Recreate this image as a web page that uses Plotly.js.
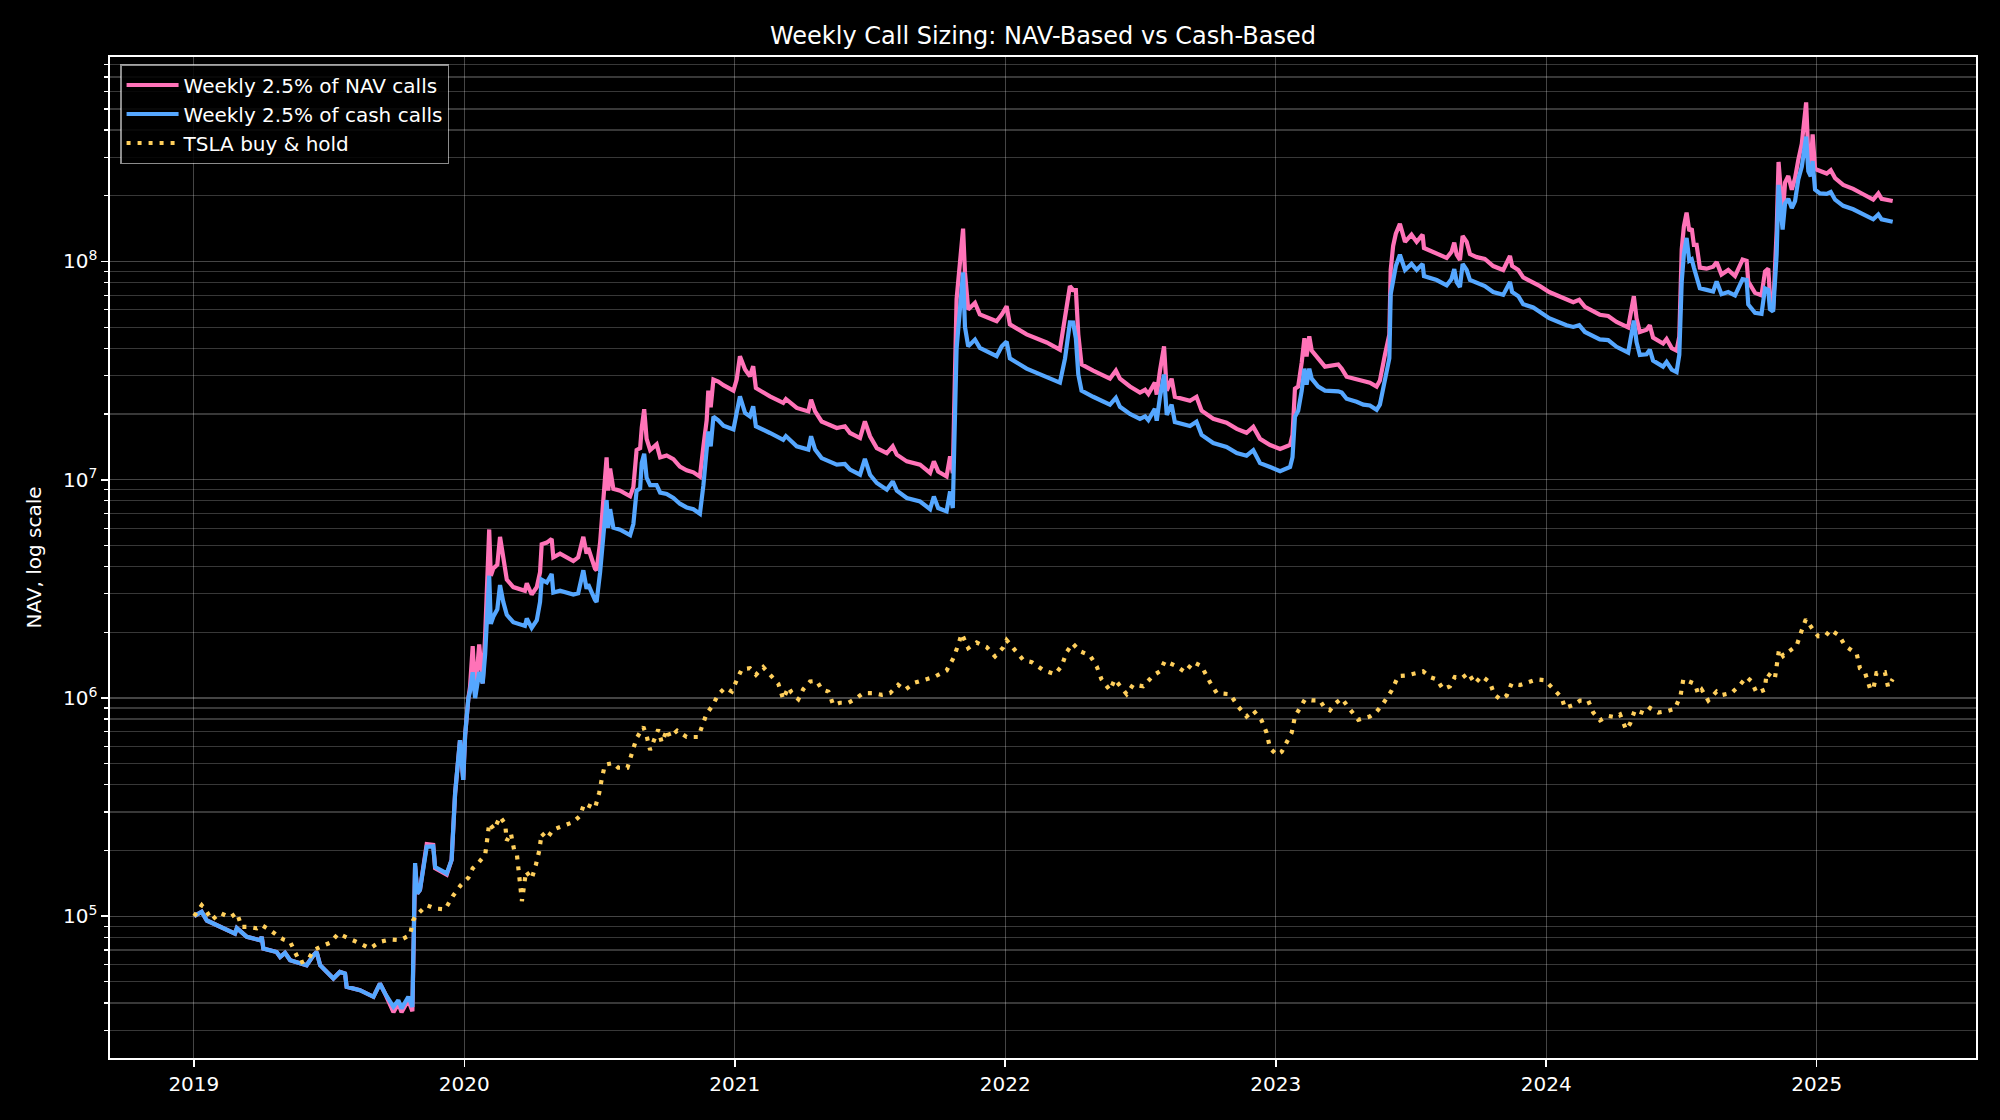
<!DOCTYPE html>
<html><head><meta charset="utf-8">
<script src="https://cdn.plot.ly/plotly-3.0.1.min.js"></script>
<style>html,body{margin:0;padding:0;background:#000;} #chart{width:2000px;height:1120px;}</style>
</head><body><div id="chart"></div>
<script>
// Dates expressed as decimal years
const navYears = [
2019.001,2019.029,2019.048,2019.097,2019.152,2019.159,2019.196,2019.245,2019.251,2019.257,
2019.306,2019.319,2019.337,2019.356,2019.417,2019.442,2019.454,2019.467,2019.516,2019.540,
2019.559,2019.565,2019.614,2019.664,2019.688,2019.707,2019.738,2019.756,2019.768,2019.793,
2019.808,2019.818,2019.826,2019.836,2019.861,2019.885,2019.892,2019.935,2019.953,2019.966,
2019.984,2019.996,2020.003,2020.015,2020.021,2020.031,2020.040,2020.055,2020.068,2020.077,
2020.092,2020.098,2020.107,2020.122,2020.132,2020.144,2020.157,2020.181,2020.224,2020.231,
2020.249,2020.268,2020.280,2020.286,2020.305,2020.323,2020.329,2020.354,2020.403,2020.421,
2020.440,2020.452,2020.458,2020.483,2020.489,2020.502,2020.514,2020.526,2020.532,2020.539,
2020.551,2020.576,2020.613,2020.625,2020.637,2020.650,2020.656,2020.665,2020.674,2020.687,
2020.711,2020.724,2020.748,2020.773,2020.797,2020.822,2020.847,2020.871,2020.884,2020.896,
2020.902,2020.911,2020.921,2020.939,2020.958,2020.995,2021.007,2021.019,2021.038,2021.056,
2021.068,2021.078,2021.130,2021.179,2021.189,2021.229,2021.272,2021.282,2021.297,2021.321,
2021.377,2021.407,2021.426,2021.463,2021.481,2021.500,2021.525,2021.562,2021.584,2021.599,
2021.636,2021.685,2021.722,2021.736,2021.752,2021.783,2021.796,2021.806,2021.820,2021.832,
2021.844,2021.851,2021.863,2021.888,2021.906,2021.968,2021.987,2022.005,2022.017,2022.079,
2022.153,2022.202,2022.221,2022.239,2022.251,2022.261,2022.270,2022.282,2022.325,2022.387,
2022.409,2022.424,2022.461,2022.498,2022.517,2022.529,2022.553,2022.560,2022.572,2022.587,
2022.597,2022.615,2022.627,2022.683,2022.707,2022.726,2022.769,2022.818,2022.856,2022.892,
2022.917,2022.942,2022.979,2023.016,2023.053,2023.062,2023.071,2023.083,2023.096,2023.106,
2023.114,2023.124,2023.133,2023.157,2023.182,2023.231,2023.244,2023.262,2023.299,2023.324,
2023.348,2023.373,2023.385,2023.404,2023.412,2023.420,2023.425,2023.434,2023.444,2023.459,
2023.478,2023.502,2023.521,2023.543,2023.548,2023.595,2023.632,2023.650,2023.660,2023.669,
2023.681,2023.691,2023.706,2023.718,2023.743,2023.773,2023.804,2023.841,2023.866,2023.874,
2023.897,2023.915,2023.952,2023.977,2024.011,2024.075,2024.100,2024.122,2024.143,2024.198,
2024.229,2024.260,2024.303,2024.324,2024.334,2024.346,2024.371,2024.383,2024.395,2024.432,
2024.445,2024.464,2024.482,2024.492,2024.501,2024.509,2024.519,2024.529,2024.538,2024.546,
2024.556,2024.568,2024.593,2024.617,2024.630,2024.648,2024.673,2024.698,2024.726,2024.741,
2024.747,2024.772,2024.796,2024.809,2024.821,2024.827,2024.839,2024.852,2024.859,2024.867,
2024.874,2024.883,2024.895,2024.908,2024.920,2024.932,2024.945,2024.961,2024.969,2024.978,
2024.985,2024.994,2025.012,2025.037,2025.052,2025.068,2025.098,2025.135,2025.172,2025.209,
2025.228,2025.240,2025.281
];

const navCalls = [
100000,104700,95500,89300,83200,88100,80400,77600,80400,71100,
68500,65000,67900,62800,59600,66200,68500,59600,51800,55500,
54600,47400,45800,42700,49100,44200,36300,39800,36300,41200,
36700,170000,127000,132000,214000,212000,166000,155000,181000,366000,
641000,421000,676000,998000,1122000,1726000,1038000,1758000,1167000,1936000,
5916000,3631000,3917000,4074000,5470000,4406000,3483000,3221000,3097000,3350000,
2979000,3221000,3767000,5058000,5152000,5358000,4406000,4581000,4236000,4406000,
5470000,4581000,4864000,3917000,3846000,5152000,7925000,12650000,8913000,11250000,
9078000,8913000,8395000,9247000,13680000,13960000,17300000,21040000,15380000,13680000,
14520000,12650000,12910000,12420000,11480000,11040000,10810000,10330000,14220000,18710000,
25590000,21480000,28770000,28180000,27100000,25590000,28770000,36810000,31990000,29790000,
33110000,26300000,24100000,22490000,23440000,21330000,20560000,23280000,20560000,18490000,
17260000,17580000,16370000,15520000,18490000,15810000,13960000,13240000,14220000,13030000,
12130000,11720000,10740000,12130000,10910000,10350000,12790000,10720000,66990000,100000000,
141300000,89130000,60260000,64570000,57150000,53210000,57150000,62370000,51520000,46340000,
42560000,39450000,54950000,77090000,73960000,73960000,46340000,33730000,31620000,29040000,
31620000,29040000,26730000,25060000,25820000,24720000,27860000,24550000,31620000,40830000,
25590000,29040000,23990000,23010000,23990000,20700000,19010000,18240000,17100000,16410000,
17460000,15380000,14420000,13840000,14420000,16030000,26120000,26730000,34430000,44460000,
36730000,45390000,39080000,35970000,32960000,33730000,32280000,29650000,28840000,28120000,
27860000,26730000,28440000,37500000,42560000,46340000,91410000,117800000,134000000,148900000,
123000000,132700000,123000000,132700000,115300000,108100000,103800000,110700000,121900000,107400000,
101600000,130900000,123000000,108100000,104700000,102800000,95280000,91410000,105900000,95280000,
91410000,84530000,80540000,77090000,72440000,66680000,65010000,66680000,61940000,57020000,
56230000,52840000,49890000,69340000,54830000,47530000,48640000,51050000,44770000,42070000,
44160000,40090000,39080000,45190000,113500000,144900000,167500000,138000000,141600000,119100000,
119100000,93760000,92680000,94620000,99310000,87100000,91410000,85700000,102100000,100700000,
80910000,71780000,69980000,89950000,92680000,69980000,60530000,138000000,285800000,213300000,
158500000,230100000,246600000,213300000,241000000,292400000,346700000,535800000,306900000,272300000,
381900000,265500000,259400000,252900000,261800000,241000000,224400000,215300000,203200000,191900000,
205100000,193600000,189200000
];

const cashCalls = [
100000,104700,95500,89300,83200,88100,80400,77600,80400,71100,
68500,65000,67900,62800,59600,66200,68500,59600,51800,55500,
54600,47400,45800,42700,49100,44200,38400,41200,37800,42700,
38400,175000,127000,132000,208000,209000,168000,157000,181000,366000,
641000,421000,676000,998000,1072000,1312000,998000,1312000,1167000,1585000,
3631000,2183000,2355000,2547000,3289000,2754000,2404000,2223000,2138000,2312000,
2094000,2270000,2754000,3483000,3381000,3698000,3041000,3097000,2979000,3020000,
3846000,3162000,3311000,2812000,2754000,3767000,5572000,8072000,6026000,7328000,
6026000,5902000,5572000,6266000,8913000,9120000,11940000,13150000,10210000,9441000,
9441000,8730000,8610000,8241000,7762000,7464000,7328000,6982000,9441000,14790000,
16630000,14220000,19450000,18710000,17660000,16980000,19950000,24100000,20230000,19500000,
21680000,17580000,16370000,15240000,15850000,14220000,13740000,15810000,13740000,12560000,
11720000,11800000,11120000,10540000,12450000,10540000,9661000,8995000,9817000,8913000,
8241000,7943000,7328000,8375000,7413000,7161000,8831000,7413000,39810000,63100000,
89130000,50120000,40830000,43850000,40180000,36810000,40830000,42950000,35970000,32280000,
29650000,27860000,35970000,52600000,52480000,44460000,30340000,25590000,23990000,22080000,
23710000,21580000,20000000,19010000,19500000,18750000,21130000,18620000,23990000,30340000,
19820000,22080000,18370000,17620000,18450000,16030000,14720000,14130000,13240000,12880000,
13650000,11910000,11430000,10940000,11430000,12680000,19410000,20700000,25590000,32280000,
27290000,32280000,29040000,26730000,25590000,25410000,25060000,23500000,22750000,22080000,
21880000,20890000,22080000,28440000,32280000,35970000,70790000,83950000,95280000,107400000,
91410000,97500000,91410000,97500000,85700000,82220000,77800000,83180000,92260000,80350000,
76380000,97500000,91410000,82220000,79430000,77090000,72440000,70310000,80540000,72440000,
69340000,63680000,61520000,58480000,54950000,51050000,50120000,51050000,47530000,43950000,
43650000,40640000,38190000,53580000,42660000,37330000,37580000,39450000,35160000,32960000,
34670000,31920000,31120000,37330000,80910000,108100000,128200000,100700000,102300000,93760000,
83180000,75340000,74130000,72780000,80910000,70790000,72440000,69980000,82990000,82220000,
63530000,58210000,57540000,75340000,74130000,60530000,59020000,108100000,224400000,171400000,
140000000,184500000,193600000,175800000,189200000,237700000,272300000,373300000,259400000,245500000,
288400000,213300000,205100000,204200000,208400000,191900000,179900000,173400000,165200000,156000000,
164100000,156000000,152100000
];

const tslaYears = [
2019.001,2019.029,2019.048,2019.066,2019.097,2019.134,2019.159,2019.177,2019.201,2019.233,
2019.251,2019.282,2019.312,2019.331,2019.356,2019.374,2019.393,2019.423,2019.442,2019.467,
2019.504,2019.534,2019.577,2019.614,2019.651,2019.688,2019.725,2019.762,2019.799,2019.811,
2019.824,2019.861,2019.892,2019.929,2019.957,2019.987,2020.015,2020.031,2020.052,2020.077,
2020.085,2020.092,2020.110,2020.132,2020.151,2020.157,2020.172,2020.184,2020.194,2020.200,
2020.210,2020.213,2020.228,2020.249,2020.264,2020.277,2020.286,2020.305,2020.329,2020.369,
2020.403,2020.428,2020.443,2020.483,2020.499,2020.509,2020.520,2020.551,2020.569,2020.603,
2020.623,2020.637,2020.662,2020.674,2020.687,2020.717,2020.730,2020.750,2020.760,2020.787,
2020.822,2020.865,2020.881,2020.896,2020.918,2020.939,2020.964,2020.989,2021.013,2021.026,
2021.056,2021.078,2021.105,2021.136,2021.161,2021.179,2021.198,2021.210,2021.235,2021.253,
2021.278,2021.303,2021.321,2021.346,2021.364,2021.389,2021.420,2021.444,2021.475,2021.512,
2021.543,2021.574,2021.604,2021.629,2021.666,2021.709,2021.740,2021.783,2021.808,2021.826,
2021.839,2021.863,2021.894,2021.931,2021.962,2021.993,2022.005,2022.030,2022.067,2022.098,
2022.141,2022.184,2022.208,2022.227,2022.249,2022.276,2022.313,2022.338,2022.356,2022.387,
2022.405,2022.449,2022.473,2022.510,2022.547,2022.572,2022.590,2022.634,2022.665,2022.695,
2022.726,2022.757,2022.782,2022.831,2022.861,2022.892,2022.917,2022.948,2022.966,2022.979,
2023.003,2023.022,2023.040,2023.059,2023.071,2023.108,2023.133,2023.163,2023.182,2023.200,
2023.219,2023.244,2023.274,2023.305,2023.348,2023.373,2023.397,2023.429,2023.453,2023.484,
2023.521,2023.545,2023.570,2023.595,2023.619,2023.644,2023.662,2023.687,2023.712,2023.736,
2023.761,2023.792,2023.807,2023.831,2023.854,2023.872,2023.903,2023.933,2023.965,2023.995,
2024.026,2024.057,2024.069,2024.100,2024.125,2024.155,2024.174,2024.199,2024.229,2024.254,
2024.273,2024.295,2024.310,2024.328,2024.365,2024.384,2024.414,2024.445,2024.476,2024.497,
2024.507,2024.531,2024.550,2024.562,2024.575,2024.599,2024.630,2024.648,2024.685,2024.716,
2024.741,2024.759,2024.778,2024.808,2024.815,2024.845,2024.852,2024.861,2024.876,2024.901,
2024.926,2024.944,2024.960,2024.987,2025.006,2025.034,2025.051,2025.083,2025.104,2025.148,
2025.160,2025.178,2025.190,2025.197,2025.209,2025.221,2025.252,2025.264,2025.281
];

const tslaHold = [
100000,112200,104700,95900,103500,98600,103500,89300,89300,87900,
91000,86300,80900,78200,76200,68500,61100,63200,69800,72300,
75500,83200,79100,75000,71100,76200,78200,77600,81800,95900,
101200,112200,108400,107400,123300,138700,150000,165600,175400,191000,
226500,266700,249500,285800,264200,221800,239900,201400,193600,164100,
138700,117200,160300,148300,170600,199500,239900,226500,249500,259400,
269800,288400,328100,311900,368900,430500,494300,503500,478600,478600,
572800,654600,736200,669900,576800,716100,625200,716100,662200,707900,
662200,662200,753400,847200,924700,1038000,1114000,1069000,1253000,1355000,
1368000,1276000,1384000,1253000,1159000,986000,1119000,1057000,986000,1096000,
1189000,1197000,1096000,1069000,929000,950600,950600,986000,1052000,1052000,
1033000,1052000,1148000,1089000,1175000,1219000,1253000,1334000,1521000,1750000,
1968000,1690000,1795000,1710000,1549000,1706000,1841000,1690000,1489000,1459000,
1340000,1285000,1396000,1622000,1778000,1637000,1567000,1396000,1216000,1084000,
1216000,1040000,1153000,1130000,1268000,1324000,1476000,1396000,1312000,1459000,
1396000,1180000,1052000,1040000,914100,822200,877000,787000,693400,588800,
549500,566200,623700,693400,822200,984000,975000,975000,895400,877000,
941900,995400,887200,794300,822200,865000,941900,1084000,1259000,1268000,
1300000,1324000,1247000,1216000,1096000,1130000,1247000,1230000,1300000,1164000,
1259000,1180000,1040000,984000,1026000,1164000,1146000,1180000,1216000,1205000,
1107000,1005000,899500,926800,972800,972800,857000,788900,827900,816600,
839500,716100,762100,881000,847200,899500,857000,869000,891300,1030000,
1219000,1191000,1161000,1040000,1091000,972800,1069000,1030000,1054000,1146000,
1247000,1191000,1054000,1091000,1300000,1219000,1432000,1671000,1556000,1656000,
1738000,2028000,2291000,2051000,1914000,1932000,2051000,1932000,1738000,1592000,
1365000,1312000,1191000,1107000,1091000,1300000,1312000,1122000,1219000
];

const yearTicks = [2019, 2020, 2021, 2022, 2023, 2024, 2025];
const yearLabels = ['2019', '2020', '2021', '2022', '2023', '2024', '2025'];
const decadeTicks = [1e5, 1e6, 1e7, 1e8];
const decadeLabels = ['10<sup>5</sup>', '10<sup>6</sup>', '10<sup>7</sup>', '10<sup>8</sup>'];

const minorVals = [];
for (let e = 4; e <= 8; e++) for (let m = 2; m <= 9; m++) minorVals.push(m * Math.pow(10, e));

const traces = [
  {x: navYears, y: navCalls, type: 'scatter', mode: 'lines', name: 'Weekly 2.5% of NAV calls',
   line: {color: '#ff73b8', width: 4.2}},
  {x: navYears, y: cashCalls, type: 'scatter', mode: 'lines', name: 'Weekly 2.5% of cash calls',
   line: {color: '#55a7ff', width: 4.2}},
  {x: tslaYears, y: tslaHold, type: 'scatter', mode: 'lines', name: 'TSLA buy & hold',
   line: {color: '#ffcf5c', width: 4.2, dash: '4px,7px'}}
];

const gridMajor = 'rgba(255,255,255,0.27)';
const layout = {
  width: 2000, height: 1120,
  paper_bgcolor: '#000', plot_bgcolor: '#000',
  font: {family: 'DejaVu Sans, sans-serif', color: '#ffffff', size: 20},
  margin: {l: 110, r: 24, t: 57, b: 62, pad: 0},
  showlegend: true,
  title: {text: 'Weekly Call Sizing: NAV-Based vs Cash-Based', font: {size: 24, color: '#fff'},
          x: 0.5, xref: 'paper', xanchor: 'center', y: 1 - 36/1120, yref: 'container', yanchor: 'middle'},
  xaxis: {
    range: [2018.690, 2025.589], tickmode: 'array', tickvals: yearTicks, ticktext: yearLabels,
    showgrid: true, gridcolor: gridMajor, gridwidth: 1.2, zeroline: false,
    showline: true, linecolor: '#ffffff', linewidth: 1.6, mirror: true,
    ticks: 'outside', ticklen: 7, tickwidth: 1.6, tickcolor: '#ffffff',
    tickfont: {size: 20, color: '#fff'}, automargin: false
  },
  yaxis: {
    type: 'log', range: [4.35, 8.937], tickmode: 'array', tickvals: decadeTicks, ticktext: decadeLabels,
    showgrid: true, gridcolor: gridMajor, gridwidth: 1.2, zeroline: false,
    showline: true, linecolor: '#ffffff', linewidth: 1.6, mirror: true,
    ticks: 'outside', ticklen: 7, tickwidth: 1.6, tickcolor: '#ffffff',
    tickfont: {size: 20, color: '#fff'}, automargin: false,
    minor: {tickmode: 'array', tickvals: minorVals, ticks: 'outside', ticklen: 4, tickwidth: 1.2,
            tickcolor: '#ffffff', showgrid: true, gridcolor: 'rgba(255,255,255,0.22)', gridwidth: 1.2},
    title: {text: 'NAV, log scale', font: {size: 20, color: '#fff'}, standoff: 16}
  },
  legend: {
    x: 0.0054, y: 0.993, xanchor: 'left', yanchor: 'top',
    bgcolor: 'rgba(0,0,0,0.85)', bordercolor: 'rgba(255,255,255,0.55)', borderwidth: 1.5,
    font: {size: 20, color: '#fff'}, itemwidth: 52, tracegroupgap: 0
  }
};

Plotly.newPlot('chart', traces, layout, {displayModeBar: false, staticPlot: true});
</script>
</body></html>
